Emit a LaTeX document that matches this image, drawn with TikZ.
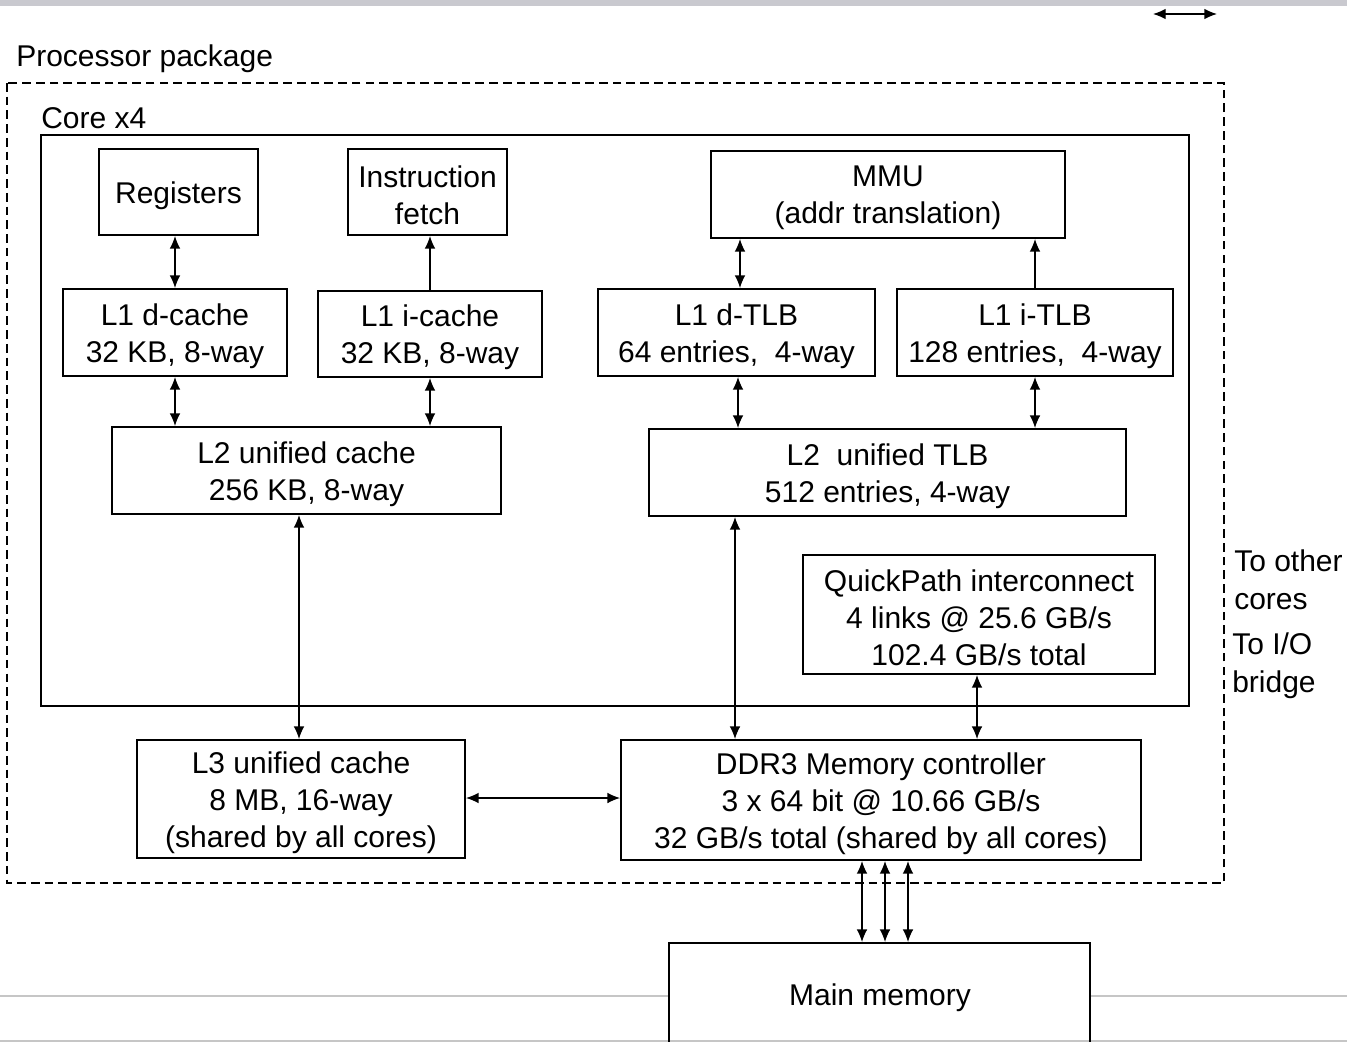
\documentclass[tikz,border=0pt]{standalone}
\usepackage{fontspec}
\setmainfont{Liberation Sans}
\usetikzlibrary{arrows.meta,fit,calc}
\begin{document}
\begin{tikzpicture}[x=0.75pt,y=-0.75pt,
  box/.style={draw,line width=1.4pt,inner sep=0pt},
  txt/.style={inner sep=0pt,align=center,yshift=-2.8pt,
    font=\fontsize{22.5}{27.75}\selectfont},
  lbl/.style={inner sep=0pt,align=left,anchor=west,
    font=\fontsize{22.5}{28.5}\selectfont},
  dbl/.style={{Latex[length=9.5pt,width=8pt]}-{Latex[length=9.5pt,width=8pt]},line width=1pt},
  one/.style={-{Latex[length=9.5pt,width=8pt]},line width=1pt},
  rule/.style={draw=gray!45,line width=1.6pt}]
\useasboundingbox (0,0) rectangle (1347,1042);
\clip (0,0) rectangle (1347,1042);

% page furniture
\fill[blue!6!gray!40] (0,0) rectangle (1347,6);
\draw[rule] (0,996) -- (669,996);
\draw[rule] (1090,996) -- (1347,996);
\draw[rule] (0,1041) -- (1347,1041);
\coordinate (ta) at (1153,14);
\coordinate (tb) at (1217,14);
\draw[dbl] (ta) -- (tb);

% package and core outlines
\node[lbl] (pkglbl) at (16,59) {Processor package};
\draw[line width=1.1pt,dash pattern=on 6.5pt off 3.8pt] (7,83) rectangle (1224,883);
\node[lbl] (corelbl) at (41,118) {Core x4};
\draw[line width=1.4pt] (41,135) rectangle (1189,706);

% core blocks
\node[box,fit={(99,149)(258,235)}] (reg) {};
\node[box,fit={(348,149)(507,235)}] (ifetch) {};
\node[box,fit={(711,151)(1065,238)}] (mmu) {};
\node[box,fit={(63,289)(287,376)}] (l1d) {};
\node[box,fit={(318,291)(542,377)}] (l1i) {};
\node[box,fit={(598,289)(875,376)}] (dtlb) {};
\node[box,fit={(897,289)(1173,376)}] (itlb) {};
\node[box,fit={(112,427)(501,514)}] (l2) {};
\node[box,fit={(649,429)(1126,516)}] (l2tlb) {};
\node[box,fit={(803,555)(1155,674)}] (qpi) {};
% shared blocks
\node[box,fit={(137,740)(465,858)}] (l3) {};
\node[box,fit={(621,740)(1141,860)}] (ddr) {};
\node[box,fit={(669,943)(1090,1046)}] (mem) {};

% block captions
\node[txt] (regt) at (reg.center) {Registers};
\node[txt] (ifetcht) at (ifetch.center) {Instruction\\fetch};
\node[txt] (mmut) at (mmu.center) {MMU\\(addr translation)};
\node[txt] (l1dt) at (l1d.center) {L1 d-cache\\32 KB, 8-way};
\node[txt] (l1it) at (l1i.center) {L1 i-cache\\32 KB, 8-way};
\node[txt] (dtlbt) at (dtlb.center) {L1 d-TLB\\64 entries,\ \ 4-way};
\node[txt] (itlbt) at (itlb.center) {L1 i-TLB\\128 entries,\ \ 4-way};
\node[txt] (l2t) at (l2.center) {L2 unified cache\\256 KB, 8-way};
\node[txt] (l2tlbt) at (l2tlb.center) {L2\ \ unified TLB\\512 entries, 4-way};
\node[txt] (qpit) at (qpi.center) {QuickPath interconnect\\4 links @ 25.6 GB/s\\102.4 GB/s total};
\node[txt] (l3t) at (l3.center) {L3 unified cache\\8 MB, 16-way\\(shared by all cores)};
\node[txt] (ddrt) at (ddr.center) {DDR3 Memory controller\\3 x 64 bit @ 10.66 GB/s\\32 GB/s total (shared by all cores)};
\node[txt] (memt) at (880,994) {Main memory};

\node[lbl] (oc) at (1234,580) {To other\\cores};
\node[lbl] (io) at (1232,666) {To I/O\\bridge};

% connections
\draw[dbl] (l1d.north) -- (l1d.north |- reg.south);
\draw[one] (l1i.north) -- (l1i.north |- ifetch.south);
\draw[dbl] ($(dtlb.north)+(3.5,0)$) -- ($(dtlb.north |- mmu.south)+(3.5,0)$);
\draw[one] (itlb.north) -- (itlb.north |- mmu.south);
\draw[dbl] (l1d.south) -- (l1d.south |- l2.north);
\draw[dbl] (l1i.south) -- (l1i.south |- l2.north);
\draw[dbl] ($(dtlb.south)+(1.5,0)$) -- ($(dtlb.south |- l2tlb.north)+(1.5,0)$);
\draw[dbl] (itlb.south) -- (itlb.south |- l2tlb.north);
\draw[dbl] ($(l2.south)+(-7.5,0)$) -- ($(l2.south |- l3.north)+(-7.5,0)$);
\draw[dbl] ($(l2tlb.south)+(-152.5,0)$) -- ($(l2tlb.south |- ddr.north)+(-152.5,0)$);
\draw[dbl] ($(qpi.south)+(-2,0)$) -- ($(qpi.south |- ddr.north)+(-2,0)$);
\draw[dbl] (l3.east |- 0,798) -- (ddr.west |- 0,798);
\foreach \dx in {-19,4,27}
  \draw[dbl] ($(ddr.south)+(\dx,0)$) -- ($(ddr.south |- mem.north)+(\dx,0)$);
\end{tikzpicture}
\end{document}
